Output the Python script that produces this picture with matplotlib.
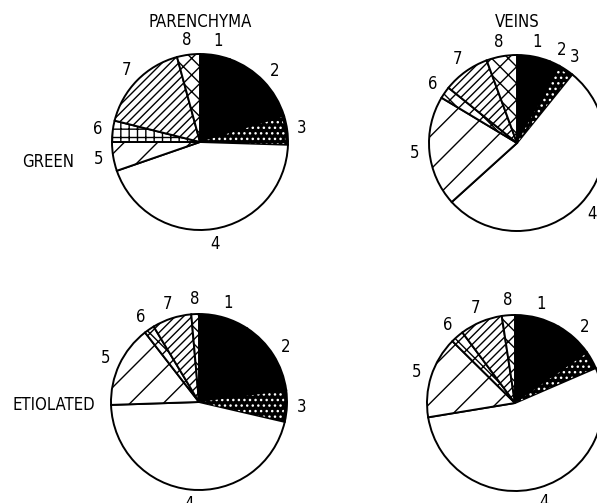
import matplotlib
matplotlib.use("Agg")
import matplotlib.pyplot as plt
from matplotlib.patches import Wedge

# ---- data (percent of each pie, slices 1..8, clockwise from 12 o'clock) ----
slice_labels = ["1", "2", "3", "4", "5", "6", "7", "8"]
green_parenchyma = [5.5, 14.7, 5.3, 44.2, 5.3, 3.9, 16.9, 4.2]
green_veins = [6.1, 1.9, 2.8, 52.5, 20.3, 2.2, 8.6, 5.6]
etiolated_parenchyma = [9.2, 13.6, 5.8, 45.8, 15.0, 1.9, 7.2, 1.4]
etiolated_veins = [8.3, 6.9, 3.3, 53.9, 15.0, 2.4, 7.8, 2.4]
col_titles = ["PARENCHYMA", "VEINS"]
row_labels = ["GREEN", "ETIOLATED"]

W, H = 597, 503
plt.rcParams['font.family'] = ['DejaVu Sans']
plt.rcParams['font.stretch'] = 'condensed'
plt.rcParams['hatch.linewidth'] = 1.0
fig = plt.figure(figsize=(W / 100, H / 100), dpi=100)
ax = fig.add_axes([0, 0, 1, 1])

R = 88
pies = [
    (green_parenchyma, (200, 142), ['', '', '', '', '/', '++', '////', 'xx']),
    (green_veins, (517, 143), ['', '', '', '', '/', 'xx', '////', 'xx']),
    (etiolated_parenchyma, (199, 402), ['', '', '', '', '/', 'xx', '////', 'xx']),
    (etiolated_veins, (515, 403), ['', '', '', '', '/', 'xx', '////', 'xx']),
]
faces = ['black', 'black', 'black', 'white', 'white', 'white', 'white', 'white']
white_dots = {2: '...'}

for values, (cx, cy), hatches in pies:
    wedges, texts = ax.pie(
        values, labels=slice_labels, startangle=90, counterclock=False,
        center=(cx, H - cy), radius=R, labeldistance=1.17, colors=faces,
        wedgeprops=dict(edgecolor='black', linewidth=1.4),
        textprops=dict(fontsize=12, ha='center', va='center', fontstretch='condensed'),
    )
    for w, h in zip(wedges, hatches):
        if h:
            w.set_hatch(h)
    for i, h in white_dots.items():
        w = wedges[i]
        ax.add_patch(Wedge(w.center, w.r * 0.97, w.theta1 + 0.5, w.theta2 - 0.5,
                           facecolor='none', edgecolor='white', hatch=h, linewidth=0))

tp = dict(ha='center', va='center', fontsize=12, fontstretch='condensed')
# column titles
ax.text(200, H - 22, col_titles[0], **tp)
ax.text(517, H - 22, col_titles[1], **tp)
# row labels
ax.text(48, H - 162, row_labels[0], **tp)
ax.text(54, H - 405, row_labels[1], **tp)

ax.set_xlim(0, W)
ax.set_ylim(0, H)
ax.set_aspect('equal')
ax.axis('off')
fig.savefig('out.png', dpi=100)
